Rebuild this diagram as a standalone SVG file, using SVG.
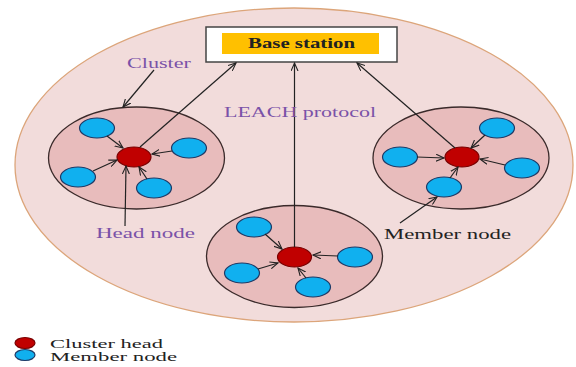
<svg xmlns="http://www.w3.org/2000/svg" width="576" height="367" viewBox="0 0 576 367">
<style>
.lbl{font-family:"Liberation Serif","Times New Roman",serif;font-size:15px;fill:#7a52a8}
.blk{font-family:"Liberation Serif","Times New Roman",serif;font-size:15px;fill:#222}
.leg{font-family:"Liberation Serif","Times New Roman",serif;font-size:13px;fill:#222}
.clu{fill:#e8bcbc;stroke:#3a2a2a;stroke-width:1.3}
.head{fill:#c00000;stroke:#7a0000;stroke-width:1.2}
.mem{fill:#10b0ef;stroke:#1f3a66;stroke-width:1.2}
.ln{stroke:#222;stroke-width:1.2;fill:none;marker-end:url(#ah)}
</style>
<defs>
<marker id="ah" markerWidth="10" markerHeight="8" refX="8" refY="4" orient="auto" markerUnits="userSpaceOnUse">
<path d="M0,0.5 L8,4 L0,7.5" fill="none" stroke="#222" stroke-width="1.1"/>
</marker>
</defs>
<rect width="576" height="367" fill="#ffffff"/>
<g id="field">
<ellipse cx="294" cy="165" rx="279" ry="157" fill="#f2dcdb" stroke="#dca57a" stroke-width="1.3"/>
</g>
<g id="base-station">
<rect x="206" y="27" width="191" height="35" fill="#ffffff" stroke="#444" stroke-width="1.5"/>
<rect x="222" y="33" width="157" height="21" fill="#ffc000"/>
<text x="248" y="48" class="blk" style="font-weight:bold" textLength="107" lengthAdjust="spacingAndGlyphs">Base station</text>
</g>
<g id="cluster-left">
<ellipse cx="136.5" cy="158" rx="88" ry="51" class="clu"/>
<ellipse cx="97" cy="128" rx="17.5" ry="10" class="mem"/>
<ellipse cx="189" cy="148" rx="17.5" ry="10" class="mem"/>
<ellipse cx="78" cy="177" rx="17.5" ry="10" class="mem"/>
<ellipse cx="154" cy="188" rx="17.5" ry="10" class="mem"/>
<ellipse cx="134" cy="157" rx="17" ry="10" class="head"/>
</g>
<g id="cluster-middle">
<ellipse cx="294.5" cy="256.5" rx="88" ry="51" class="clu"/>
<ellipse cx="254" cy="227" rx="17.5" ry="10" class="mem"/>
<ellipse cx="242" cy="273" rx="17.5" ry="10" class="mem"/>
<ellipse cx="355" cy="257" rx="17.5" ry="10" class="mem"/>
<ellipse cx="313" cy="287" rx="17.5" ry="10" class="mem"/>
<ellipse cx="294.5" cy="257" rx="17" ry="10" class="head"/>
</g>
<g id="cluster-right">
<ellipse cx="461" cy="158" rx="88" ry="51" class="clu"/>
<ellipse cx="497" cy="128" rx="17.5" ry="10" class="mem"/>
<ellipse cx="400" cy="157" rx="17.5" ry="10" class="mem"/>
<ellipse cx="522" cy="168" rx="17.5" ry="10" class="mem"/>
<ellipse cx="444" cy="187" rx="17.5" ry="10" class="mem"/>
<ellipse cx="462" cy="157" rx="17" ry="10" class="head"/>
</g>
<g id="connectors">
<line x1="107" y1="136" x2="123" y2="148" class="ln"/>
<line x1="172" y1="151" x2="152" y2="154" class="ln"/>
<line x1="93" y1="171" x2="117" y2="160" class="ln"/>
<line x1="147" y1="179" x2="139" y2="167" class="ln"/>
<line x1="125" y1="226" x2="126" y2="166" class="ln"/>
<line x1="154" y1="70" x2="123" y2="107" class="ln"/>
<line x1="140" y1="147" x2="236" y2="63" class="ln"/>
<line x1="265" y1="234" x2="282" y2="249" class="ln"/>
<line x1="258" y1="269" x2="278" y2="263" class="ln"/>
<line x1="338" y1="256" x2="313" y2="255" class="ln"/>
<line x1="306" y1="278" x2="298" y2="268" class="ln"/>
<line x1="294.5" y1="247" x2="294.5" y2="63" class="ln"/>
<line x1="417" y1="157" x2="444" y2="158" class="ln"/>
<line x1="485" y1="135" x2="471" y2="148" class="ln"/>
<line x1="505" y1="165" x2="480" y2="159" class="ln"/>
<line x1="450" y1="178" x2="458" y2="167" class="ln"/>
<line x1="400" y1="223" x2="437" y2="197" class="ln"/>
<line x1="455" y1="148" x2="357" y2="63" class="ln"/>
</g>
<g id="labels">
<text x="127" y="68" class="lbl" textLength="64" lengthAdjust="spacingAndGlyphs">Cluster</text>
<text x="224" y="117" class="lbl" textLength="152" lengthAdjust="spacingAndGlyphs">LEACH protocol</text>
<text x="96" y="238" class="lbl" textLength="99" lengthAdjust="spacingAndGlyphs">Head node</text>
<text x="384" y="239" class="blk" textLength="127" lengthAdjust="spacingAndGlyphs">Member node</text>
</g>
<g id="legend">
<ellipse cx="25" cy="343" rx="10" ry="5.5" class="head"/>
<ellipse cx="25" cy="355" rx="10" ry="5.5" class="mem"/>
<text x="50" y="347.5" class="leg" textLength="113" lengthAdjust="spacingAndGlyphs">Cluster head</text>
<text x="50" y="361" class="leg" textLength="127" lengthAdjust="spacingAndGlyphs">Member node</text>
</g>
</svg>
